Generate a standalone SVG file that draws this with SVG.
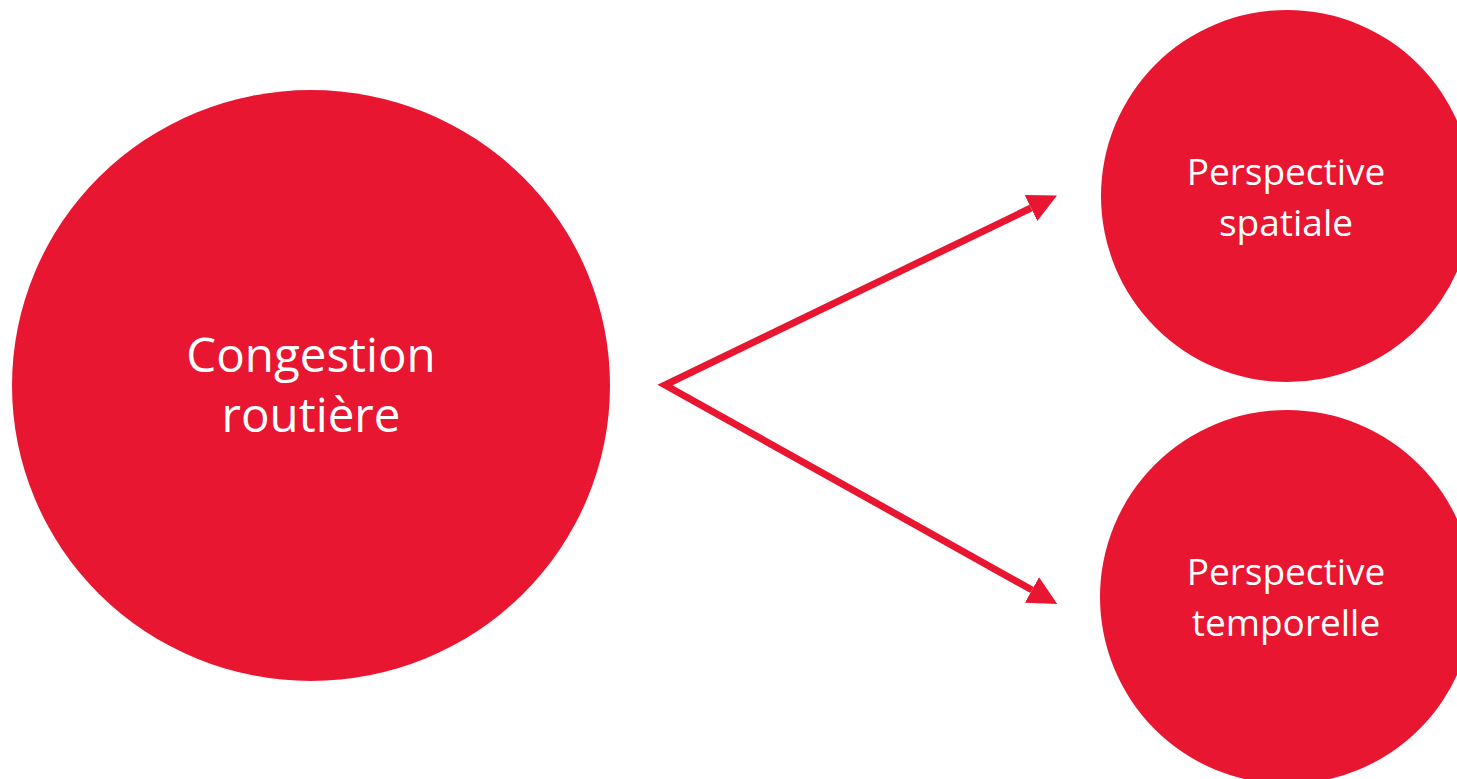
<svg xmlns="http://www.w3.org/2000/svg" width="1457" height="779" viewBox="0 0 1457 779">
<style>
.node{fill:#E81630;}
.lbl{fill:#FFFFFF;font-family:"Open Sans","Noto Sans","DejaVu Sans",sans-serif;text-anchor:middle;}
.big{font-size:47.5px;}
.small{font-size:37px;}
.conn{fill:none;stroke:#E81630;stroke-width:7;stroke-linejoin:miter;stroke-miterlimit:20;}
</style>
<defs>
<marker id="arrow" markerUnits="userSpaceOnUse" markerWidth="30" markerHeight="30" viewBox="0 -14 28 28" refX="0" refY="0" orient="auto-start-reverse">
<path d="M0,-13.5 L27,0 L0,13.5 Z" fill="#E81630"/>
</marker>
</defs>
<rect width="1457" height="779" fill="#FFFFFF"/>
<g id="connectors">
<path class="conn" d="M1031,208 L665,385 L1032,590" marker-start="url(#arrow)" marker-end="url(#arrow)"/>
</g>
<g id="congestion">
<ellipse class="node" cx="311" cy="385.5" rx="299" ry="295.5"/>
<text class="lbl big" x="311" y="372">Congestion</text>
<text class="lbl big" x="311" y="432">routière</text>
</g>
<g id="spatiale">
<circle class="node" cx="1287" cy="196" r="186"/>
<text class="lbl small" x="1286" y="185">Perspective</text>
<text class="lbl small" x="1286" y="236">spatiale</text>
</g>
<g id="temporelle">
<circle class="node" cx="1287" cy="597" r="187"/>
<text class="lbl small" x="1286" y="585">Perspective</text>
<text class="lbl small" x="1286" y="636">temporelle</text>
</g>
</svg>
